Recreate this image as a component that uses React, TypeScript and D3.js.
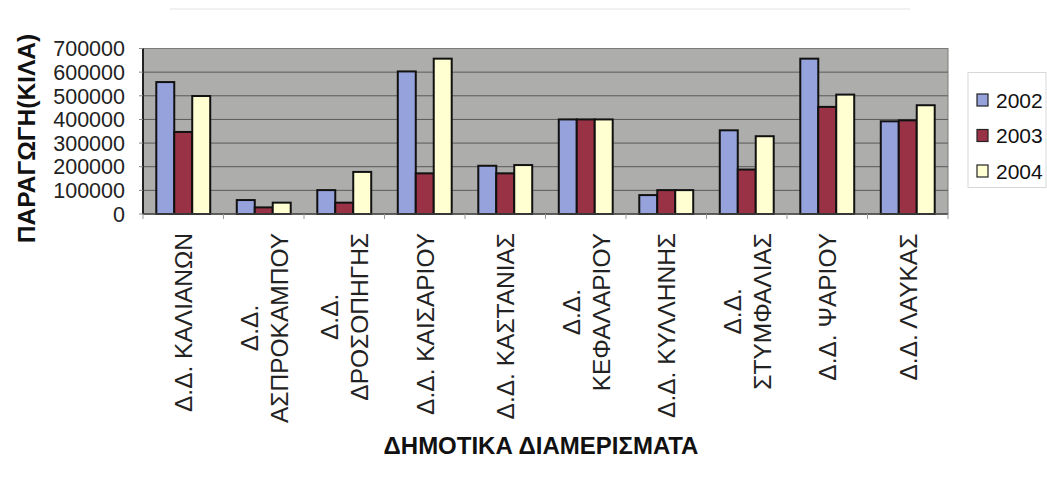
import React from "react";
import * as d3 from "d3";

const categories = [
  "Δ.Δ. ΚΑΛΙΑΝΩΝ",
  "Δ.Δ.\nΑΣΠΡΟΚΑΜΠΟΥ",
  "Δ.Δ.\nΔΡΟΣΟΠΗΓΗΣ",
  "Δ.Δ. ΚΑΙΣΑΡΙΟΥ",
  "Δ.Δ. ΚΑΣΤΑΝΙΑΣ",
  "Δ.Δ.\nΚΕΦΑΛΑΡΙΟΥ",
  "Δ.Δ. ΚΥΛΛΗΝΗΣ",
  "Δ.Δ.\nΣΤΥΜΦΑΛΙΑΣ",
  "Δ.Δ. ΨΑΡΙΟΥ",
  "Δ.Δ. ΛΑΥΚΑΣ",
];
const seriesNames = ["2002", "2003", "2004"];
const values2002 = [558000, 59000, 101000, 603000, 204000, 400000, 80000, 354000, 657000, 392000];
const values2003 = [347000, 28000, 48000, 172000, 172000, 400000, 101000, 188000, 453000, 396000];
const values2004 = [499000, 48000, 178000, 657000, 207000, 400000, 101000, 329000, 505000, 460000];
const yTicks = [0, 100000, 200000, 300000, 400000, 500000, 600000, 700000];
const yTitle = "ΠΑΡΑΓΩΓΗ(ΚΙΛΑ)";
const xTitle = "ΔΗΜΟΤΙΚΑ ΔΙΑΜΕΡΙΣΜΑΤΑ";

const colors = ["#96a2dc", "#9a3246", "#ffffd2"];
const FONT = "'Liberation Sans', Arial, sans-serif";

const measure = (() => {
  let ctx: CanvasRenderingContext2D | null = null;
  return (text: string, font: string) => {
    if (!ctx) ctx = document.createElement("canvas").getContext("2d");
    if (!ctx) return text.length * 12;
    ctx.font = font;
    return ctx.measureText(text).width;
  };
})();

export default function App() {
  const W = 1047, H = 479;
  const left = 143, right = 948, top = 48.5, bottom = 214;
  const series = [values2002, values2003, values2004];

  const x = d3.scaleBand<number>().domain(d3.range(categories.length)).range([left, right]).paddingInner(0.33).paddingOuter(0.165);
  const xs = d3.scaleBand<number>().domain(d3.range(seriesNames.length)).range([0, x.bandwidth()]).padding(0);
  const y = d3.scaleLinear().domain([0, 700000]).range([bottom, top]);
  const step = x.step();

  const catFont = `24.5px ${FONT}`;

  return (
    <svg width={W} height={H} style={{ position: "absolute", left: 0, top: 0, background: "#fff" }} fontFamily={FONT}>
      <rect x={0} y={0} width={W} height={H} fill="#ffffff" />
      <line x1={170} x2={910} y1={9} y2={9} stroke="#e2e2e2" strokeWidth={1} />
      {/* plot area */}
      <rect x={left} y={top} width={right - left} height={bottom - top} fill="#adadab" stroke="#7a7a7a" strokeWidth={1} />
      {yTicks.filter((t) => t > 0 && t < 700000).map((t) => (
        <line key={t} x1={left} x2={right} y1={y(t)} y2={y(t)} stroke="#5a5a5a" strokeWidth={1} />
      ))}
      {/* bars */}
      {categories.map((c, i) => (
        <g key={c}>
          {series.map((s, j) => (
            <rect
              key={j}
              x={(x(i) as number) + (xs(j) as number)}
              y={y(s[i])}
              width={xs.bandwidth()}
              height={y(0) - y(s[i])}
              fill={colors[j]}
              stroke="#111"
              strokeWidth={2}
            />
          ))}
        </g>
      ))}
      {/* axes */}
      <line x1={left} x2={left} y1={top} y2={bottom} stroke="#222" strokeWidth={2} />
      <line x1={left} x2={right} y1={bottom} y2={bottom} stroke="#444" strokeWidth={1.5} />
      {d3.range(categories.length + 1).map((k) => (
        <line key={k} x1={left + k * step} x2={left + k * step} y1={bottom} y2={bottom + 5} stroke="#999" strokeWidth={1} />
      ))}
      {yTicks.map((t) => (
        <g key={t}>
          <line x1={left - 4} x2={left} y1={y(t)} y2={y(t)} stroke="#888" strokeWidth={1} />
          <text x={125} y={y(t)} dy="0.36em" textAnchor="end" fontSize={21.5} fill="#222">
            {t}
          </text>
        </g>
      ))}
      {/* category labels */}
      {categories.map((c, i) => {
        const lines = c.split("\n");
        const cx = (x(i) as number) + x.bandwidth() / 2;
        const widths = lines.map((l) => measure(l, catFont));
        const maxW = Math.max(...widths);
        const lh = 30;
        return (
          <g key={c} transform={`translate(${cx},233) rotate(-90)`}>
            {lines.map((l, k) => (
              <text
                key={k}
                x={-maxW / 2}
                y={(k - (lines.length - 1) / 2) * lh}
                dy="0.36em"
                textAnchor="middle"
                fontSize={24.5}
                fill="#222"
              >
                {l}
              </text>
            ))}
          </g>
        );
      })}
      {/* axis titles */}
      <text x={541} y={445} dy="0.36em" textAnchor="middle" fontSize={24} fontWeight="bold" fill="#111">
        {xTitle}
      </text>
      <text transform={`translate(26,138.5) rotate(-90)`} dy="0.36em" textAnchor="middle" fontSize={24.5} fontWeight="bold" fill="#111">
        {yTitle}
      </text>
      {/* legend */}
      <rect x={968} y={72.5} width={78} height={115} fill="#fff" stroke="#d8d8d8" strokeWidth={1} />
      {seriesNames.map((n, j) => {
        const cy = 100 + j * 35.5;
        return (
          <g key={n}>
            <rect x={977} y={cy - 6} width={11} height={12} fill={colors[j]} stroke="#222" strokeWidth={1.2} />
            <text x={996} y={cy} dy="0.36em" fontSize={21} fill="#111">
              {n}
            </text>
          </g>
        );
      })}
    </svg>
  );
}
